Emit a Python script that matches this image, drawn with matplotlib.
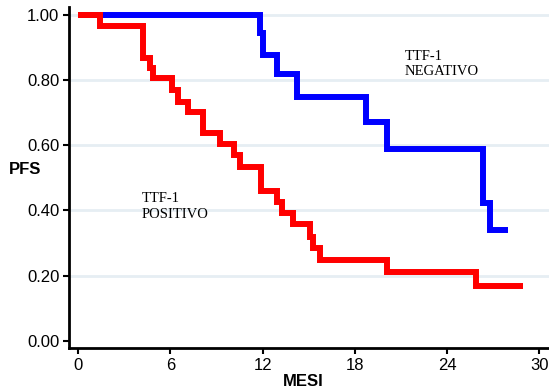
import matplotlib
matplotlib.use("Agg")
import matplotlib.pyplot as plt

# Kaplan-Meier step data (months, PFS)
blue_t = [0, 11.8, 12.05, 12.95, 14.2, 18.7, 20.1, 26.35, 26.8, 27.95]
blue_s = [1.0, 0.944, 0.877, 0.819, 0.749, 0.671, 0.589, 0.424, 0.340, 0.340]

red_t = [0, 1.41, 4.23, 4.66, 4.88, 6.08, 6.51, 7.16, 8.13, 9.22, 10.13, 10.52,
         11.89, 12.9, 13.23, 13.99, 15.08, 15.29, 15.73, 20.1, 25.86, 28.93]
red_s = [1.0, 0.966, 0.867, 0.836, 0.806, 0.770, 0.734, 0.703, 0.637, 0.603, 0.570,
         0.532, 0.461, 0.427, 0.393, 0.358, 0.319, 0.284, 0.248, 0.21, 0.168, 0.168]

x_ticks = [0, 6, 12, 18, 24, 30]
y_ticks = [0.0, 0.2, 0.4, 0.6, 0.8, 1.0]
grid_vals = [0.2, 0.4, 0.6, 0.8, 1.0]

W, H = 549, 392
fig = plt.figure(figsize=(W / 100, H / 100), dpi=100)
ax = fig.add_axes([69 / W, 1 - 348 / H, 1 - 69 / W, (348 - 7) / H])

for g in grid_vals:
    ax.axhline(g, color="#e6eef3", lw=2, zorder=0)

ax.step(blue_t, blue_s, where="post", color="#0000ff", lw=4.3,
        solid_capstyle="butt", solid_joinstyle="miter", zorder=2)
ax.step(red_t, red_s, where="post", color="#ff0000", lw=4.3,
        solid_capstyle="butt", solid_joinstyle="miter", zorder=3)

ax.set_xlim(-0.6, 30.62)
ax.set_ylim(-0.0224, 1.0246)
ax.set_xticks(x_ticks)
ax.set_yticks(y_ticks)
ax.set_yticklabels([f"{v:.2f}" for v in y_ticks])

for s in ["top", "right"]:
    ax.spines[s].set_visible(False)
for s in ["left", "bottom"]:
    ax.spines[s].set_linewidth(2)
    ax.spines[s].set_color("black")

ax.tick_params(axis="both", direction="out", length=4, width=1.5,
               labelsize=12, pad=3, colors="black")
for lab in ax.get_xticklabels() + ax.get_yticklabels():
    lab.set_family("Liberation Sans")

ax.text(405 / W, 1 - 75 / H, "TTF-1\nNEGATIVO", transform=fig.transFigure,
        family="Liberation Serif", fontsize=10.5, va="baseline", ha="left",
        linespacing=1.25)
ax.text(142 / W, 1 - 218 / H, "TTF-1\nPOSITIVO", transform=fig.transFigure,
        family="Liberation Serif", fontsize=10.5, va="baseline", ha="left",
        linespacing=1.25)

fig.text(25 / W, 1 - 170 / H, "PFS", family="Liberation Sans", fontweight="bold",
         fontsize=12, ha="center", va="center")
fig.text(303 / W, 1 - 381 / H, "MESI", family="Liberation Sans", fontweight="bold",
         fontsize=12, ha="center", va="center")

fig.savefig("out.png", dpi=100)
